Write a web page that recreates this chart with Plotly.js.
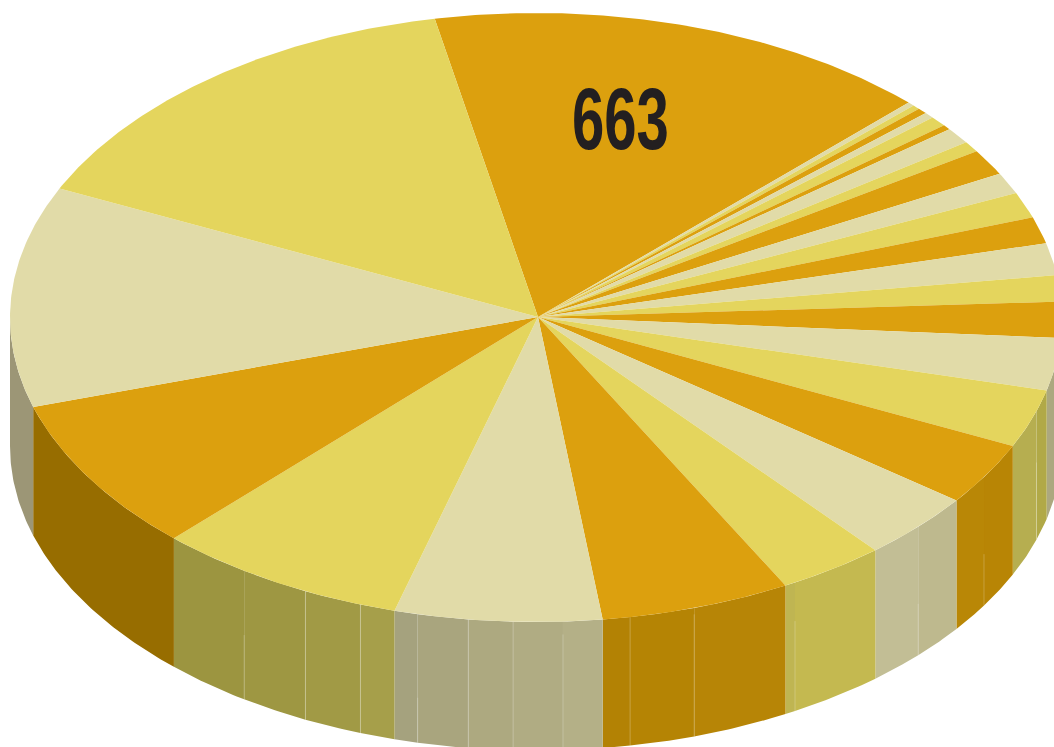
<!DOCTYPE html>
<html>
<head>
<meta charset="utf-8">
<script src="https://cdn.plot.ly/plotly-3.0.1.min.js"></script>
<style>html,body{margin:0;padding:0;background:#fff;overflow:hidden}#chart{width:1054px;height:747px}</style>
</head>
<body>
<div id="chart"></div>
<script>
// Data, clockwise from the slice labelled 663
var sliceValues = [663, 9, 10, 13, 13, 23, 11, 36, 24, 58, 48, 58, 60, 72, 59, 81, 118, 131, 141, 152, 140, 248, 270, 329, 347, 497, 635];
var labelText = ['663'];

// Style
var palette = ['#DCA00E', '#E1DBA8', '#E4D55D'];
var wallSeams = [107.9, 121.6, 133.4, 150.5, 162.5, 169.7, 177.06, 182.5, 187.4, 193.0, 199.5, 206.0, 213.7];
var wallSeamStart = [0.4, 0.6, 0.6, 0.3, 0.05, 0.0, 0.1, 0.0, 0.0, 0.65, 0.0, 0.0, 0.5];
var wallColors = ['#B88505', '#ACA87F', '#B1A947', '#B6AE50', '#B88505', '#B98706', '#BEB98E', '#C2BE95',
  '#C4B950', '#BFB552', '#B78506', '#B58404', '#B38204', '#B4B087', '#B0AC83', '#ADA980', '#A9A57E', '#A5A27E',
  '#A69F4A', '#A19A45', '#9E9742', '#9C9540', '#976D00', '#9C9676'];

// Geometry of the drawn disc
var cx = 536, cy = 317.5, rx = 526, ry = 304.5, apexX = 538, apexY = 317, depth = 128.5, startAngle = 348.9;

function rimX(t) { return cx + rx * Math.sin(t * Math.PI / 180); }
function rimY(t) { return cy - ry * Math.cos(t * Math.PI / 180); }
function arc(a, b) {
  var pts = [], n = Math.max(2, Math.ceil(Math.abs(b - a) * 2));
  for (var i = 0; i <= n; i++) pts.push(a + (b - a) * i / n);
  return pts;
}

var total = sliceValues.reduce(function (s, v) { return s + v; }, 0);
var edges = [startAngle];
sliceValues.forEach(function (v, i) { edges.push(edges[i] + v / total * 360); });

var traces = [];

// side wall: only the near half of the disc can be seen
var wallEdges = [90, 270].concat(wallSeams);
edges.forEach(function (e) {
  var m = ((e % 360) + 360) % 360;
  if (m > 90 && m < 270 && e !== startAngle) wallEdges.push(m);
});
wallEdges.sort(function (a, b) { return a - b; });
for (var w = 0; w < wallEdges.length - 1; w++) {
  var ts = arc(wallEdges[w], wallEdges[w + 1]);
  var xs = ts.map(rimX), ys = ts.map(rimY);
  var rs = ts.slice().reverse();
  traces.push({
    type: 'scatter', mode: 'lines', fill: 'toself', hoverinfo: 'skip', showlegend: false,
    x: xs.concat(rs.map(rimX)),
    y: ys.concat(rs.map(function (t) { return rimY(t) + depth; })),
    fillcolor: wallColors[w % wallColors.length],
    line: { width: 0 }
  });
}
// pale seams on the wall
wallSeams.forEach(function (s, i) {
  traces.push({
    type: 'scatter', mode: 'lines', hoverinfo: 'skip', showlegend: false,
    x: [rimX(s), rimX(s)], y: [rimY(s) + depth * wallSeamStart[i], rimY(s) + depth],
    line: { color: 'rgba(255,255,255,0.22)', width: 1 }
  });
});

// top face
sliceValues.forEach(function (v, i) {
  var ts = arc(edges[i], edges[i + 1]);
  traces.push({
    type: 'scatter', mode: 'lines', fill: 'toself', hoverinfo: 'skip', showlegend: false,
    x: [apexX].concat(ts.map(rimX), [apexX]),
    y: [apexY].concat(ts.map(rimY), [apexY]),
    fillcolor: palette[i % 3],
    line: { width: 0 }
  });
});

var layout = {
  width: 1054, height: 747,
  margin: { l: 0, r: 0, t: 0, b: 0 },
  paper_bgcolor: '#fff', plot_bgcolor: '#fff',
  showlegend: false,
  xaxis: { range: [0, 1054], visible: false, fixedrange: true },
  yaxis: { range: [747, 0], visible: false, fixedrange: true },
  annotations: [{
    x: 620, y: 118, xref: 'x', yref: 'y', text: labelText[0], showarrow: false,
    xanchor: 'center', yanchor: 'middle',
    font: { family: '"Liberation Sans", sans-serif', size: 88, color: '#231F20', weight: 700 }
  }]
};
Plotly.newPlot('chart', traces, layout, { displayModeBar: false, staticPlot: true }).then(function (gd) {
  // the reference label uses a condensed face: squeeze the real text to its width
  var t = gd.querySelector('.annotation-text');
  if (t) {
    t.setAttribute('textLength', '97');
    t.setAttribute('lengthAdjust', 'spacingAndGlyphs');
  }
});
</script>
</body>
</html>
